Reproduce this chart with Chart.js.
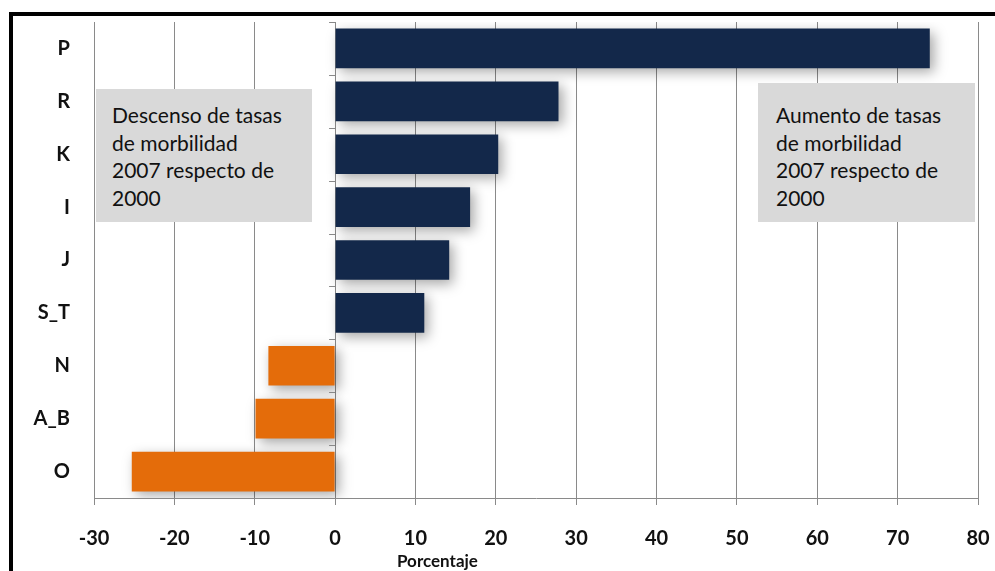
<!DOCTYPE html>
<html>
<head>
<meta charset="utf-8">
<script src="https://cdn.jsdelivr.net/npm/chart.js@4"></script>
<style>
  body { margin: 0; background: #fff; }
  #wrap { position: relative; width: 995px; height: 571px; overflow: hidden; }
  #marco { position: absolute; left: 9px; top: 12px; width: 1000px; height: 600px;
           border-left: 4px solid #000; border-top: 4px solid #000; box-sizing: border-box; }
  canvas { position: absolute; left: 0; top: 0; }
  .caja { position: absolute; background: #d9d9d9; font-family: 'Lato', sans-serif;
          font-size: 21px; line-height: 27.5px; color: #111; box-sizing: border-box; }
  #titulo_x { position: absolute; left: 397px; top: 550px; font-family: 'Lato', sans-serif;
              font-weight: bold; font-size: 17px; color: #111; }
</style>
</head>
<body>
<div id="wrap">
  <div id="marco"></div>
  <canvas id="grafico_barras" width="995" height="571"></canvas>
  <div class="caja" style="left:96px; top:89px; width:216px; height:133px; padding:12px 0 0 16px;">
    Descenso de tasas<br>de morbilidad<br>2007 respecto de<br>2000
  </div>
  <div class="caja" style="left:758px; top:83px; width:217px; height:139px; padding:18px 0 0 18px;">
    Aumento de tasas<br>de morbilidad<br>2007 respecto de<br>2000
  </div>
  <div id="titulo_x">Porcentaje</div>
</div>
<script>
  // datos
  const categorias = ['P', 'R', 'K', 'I', 'J', 'S_T', 'N', 'A_B', 'O'];
  const valores = [74, 27.8, 20.3, 16.8, 14.2, 11.1, -8.3, -9.9, -25.3];
  const ticks_x = [-30, -20, -10, 0, 10, 20, 30, 40, 50, 60, 70, 80];

  const azul = '#13284a';
  const naranja = '#e46c0a';

  const sombra = {
    id: 'sombra',
    beforeDatasetsDraw(chart) {
      const ctx = chart.ctx;
      ctx.save();
      ctx.shadowColor = 'rgba(0,0,0,0.35)';
      ctx.shadowBlur = 12;
      ctx.shadowOffsetX = 4;
      ctx.shadowOffsetY = 4;
    },
    afterDatasetsDraw(chart) {
      chart.ctx.restore();
      // marcas de categoria sobre el eje en 0
      const ctx = chart.ctx;
      const x0 = chart.scales.x.getPixelForValue(0);
      const area = chart.chartArea;
      const paso = (area.bottom - area.top) / categorias.length;
      ctx.save();
      ctx.strokeStyle = '#888';
      ctx.lineWidth = 1;
      for (let i = 0; i <= categorias.length; i++) {
        const y = Math.round(area.top + i * paso) + 0.5;
        ctx.beginPath();
        ctx.moveTo(x0 - 6, y);
        ctx.lineTo(x0, y);
        ctx.stroke();
      }
      ctx.restore();
    }
  };

  const grafico = document.getElementById('grafico_barras');

  new Chart(grafico, {
    type: 'bar',
    data: {
      labels: categorias,
      datasets: [{
        data: valores,
        backgroundColor: valores.map(v => v < 0 ? naranja : azul),
        borderWidth: 0,
        barPercentage: 0.75,
        categoryPercentage: 1
      }]
    },
    options: {
      indexAxis: 'y',
      responsive: false,
      animation: false,
      layout: { autoPadding: false, padding: { top: 22, right: 17, left: 0, bottom: 0 } },
      plugins: {
        legend: { display: false },
        tooltip: { enabled: false }
      },
      scales: {
        x: {
          min: -30,
          max: 80,
          afterBuildTicks: (scale) => { scale.ticks = ticks_x.map(v => ({ value: v })); },
          afterFit: (scale) => { scale.height = 73; scale.paddingLeft = 0; scale.paddingRight = 0; },
          grid: { color: '#8a8a8a', lineWidth: 1, tickLength: 7 },
          border: { color: '#8a8a8a' },
          ticks: {
            color: '#111',
            padding: 22,
            maxRotation: 0,
            font: { size: 20, weight: 'bold', family: "'Lato', sans-serif" }
          }
        },
        y: {
          afterFit: (scale) => { scale.width = 94; scale.paddingTop = 0; scale.paddingBottom = 0; },
          grid: { display: false, drawTicks: false },
          border: { display: false },
          ticks: {
            color: '#111',
            padding: 24,
            font: { size: 20, weight: 'bold', family: "'Lato', sans-serif" }
          }
        }
      }
    },
    plugins: [sombra]
  });
</script>
</body>
</html>
